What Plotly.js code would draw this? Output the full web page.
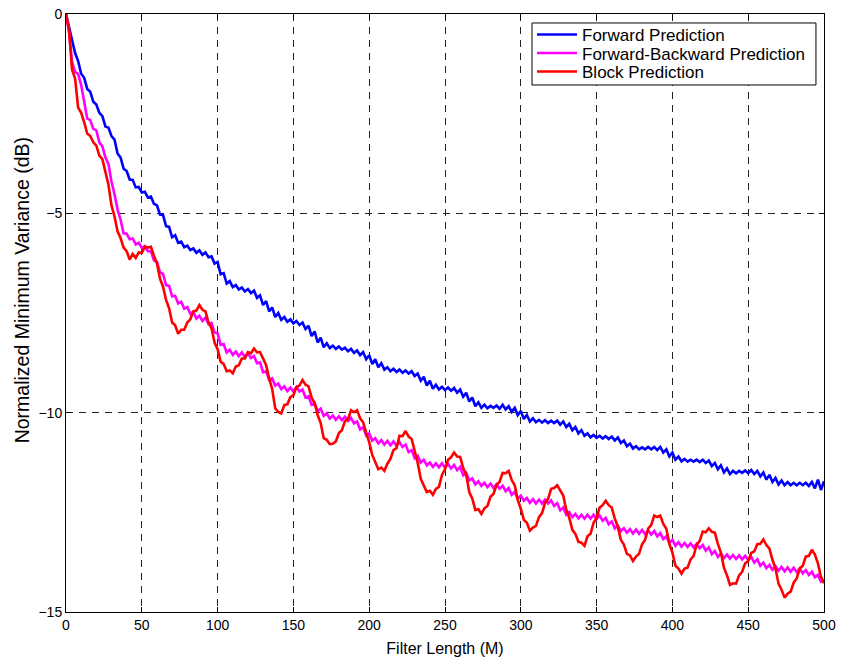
<!DOCTYPE html>
<html>
<head>
<meta charset="utf-8">
<script src="https://cdn.plot.ly/plotly-3.0.1.min.js"></script>
<style>
  html, body { margin: 0; padding: 0; background: #fff; }
  #chart { width: 843px; height: 662px; }
</style>
</head>
<body>
<div id="chart"></div>
<script>
// Filter lengths M = 0, 2, 4, ..., 500
const filterLength = [];
for (let m = 0; m <= 500; m += 2) filterLength.push(m);

// Normalized minimum variance (dB), one value per filter length
const forwardPrediction = [
  0, -0.32, -0.62, -0.98, -1.18, -1.5, -1.6, -1.88, -1.95, -2.2,
  -2.27, -2.48, -2.56, -2.82, -2.85, -3.06, -3.15, -3.5, -3.6, -3.88,
  -3.94, -4.15, -4.16, -4.35, -4.34, -4.48, -4.46, -4.6, -4.58, -4.76,
  -4.8, -5.03, -5.04, -5.32, -5.34, -5.6, -5.55, -5.74, -5.71, -5.85,
  -5.81, -5.92, -5.88, -5.99, -5.93, -6.04, -5.98, -6.1, -6.08, -6.26,
  -6.22, -6.53, -6.5, -6.76, -6.7, -6.85, -6.8, -6.91, -6.86, -6.96,
  -6.9, -7.0, -6.94, -7.12, -7.06, -7.3, -7.2, -7.46, -7.36, -7.6,
  -7.5, -7.67, -7.6, -7.72, -7.66, -7.76, -7.7, -7.8, -7.74, -7.9,
  -7.82, -8.08, -7.96, -8.24, -8.12, -8.36, -8.26, -8.38, -8.32, -8.4,
  -8.34, -8.42, -8.37, -8.46, -8.4, -8.5, -8.44, -8.56, -8.48, -8.66,
  -8.56, -8.78, -8.66, -8.86, -8.76, -8.92, -8.86, -8.96, -8.9, -8.98,
  -8.92, -9.0, -8.94, -9.02, -8.96, -9.08, -9.02, -9.2, -9.1, -9.32,
  -9.2, -9.4, -9.3, -9.42, -9.35, -9.43, -9.37, -9.45, -9.38, -9.5,
  -9.42, -9.6, -9.5, -9.72, -9.62, -9.84, -9.74, -9.88, -9.8, -9.89,
  -9.83, -9.88, -9.82, -9.9, -9.8, -9.92, -9.84, -9.98, -9.88, -10.06,
  -9.96, -10.16, -10.06, -10.22, -10.14, -10.24, -10.18, -10.25, -10.19, -10.26,
  -10.2, -10.26, -10.2, -10.3, -10.22, -10.36, -10.28, -10.44, -10.36, -10.52,
  -10.44, -10.58, -10.52, -10.62, -10.56, -10.63, -10.58, -10.65, -10.59, -10.66,
  -10.6, -10.7, -10.62, -10.76, -10.7, -10.84, -10.78, -10.9, -10.84, -10.92,
  -10.87, -10.92, -10.86, -10.92, -10.86, -10.94, -10.86, -11.0, -10.92, -11.1,
  -11.0, -11.18, -11.1, -11.22, -11.16, -11.23, -11.18, -11.23, -11.18, -11.24,
  -11.18, -11.26, -11.2, -11.34, -11.26, -11.42, -11.32, -11.5, -11.4, -11.54,
  -11.46, -11.52, -11.46, -11.51, -11.45, -11.52, -11.44, -11.54, -11.46, -11.6,
  -11.5, -11.68, -11.56, -11.74, -11.64, -11.8, -11.7, -11.82, -11.74, -11.82,
  -11.76, -11.82, -11.76, -11.82, -11.76, -11.84, -11.74, -11.9, -11.68, -11.94,
  -11.72
];

const forwardBackwardPrediction = [
  0, -0.45, -1.2, -1.45, -1.5, -1.78, -2.2, -2.62, -2.66, -2.88,
  -2.92, -3.22, -3.32, -3.6, -3.76, -4.2, -4.52, -4.9, -5.16, -5.5,
  -5.51, -5.65, -5.63, -5.78, -5.74, -5.87, -5.82, -5.95, -5.95, -6.18,
  -6.22, -6.48, -6.52, -6.8, -6.82, -7.08, -7.07, -7.26, -7.22, -7.39,
  -7.35, -7.52, -7.47, -7.64, -7.57, -7.7, -7.62, -7.78, -7.75, -7.99,
  -8.01, -8.3, -8.28, -8.49, -8.42, -8.55, -8.47, -8.58, -8.49, -8.6,
  -8.51, -8.63, -8.58, -8.76, -8.74, -8.99, -8.96, -9.18, -9.14, -9.32,
  -9.27, -9.41, -9.34, -9.46, -9.37, -9.47, -9.36, -9.47, -9.42, -9.62,
  -9.59, -9.8, -9.77, -9.96, -9.9, -10.08, -10.02, -10.15, -10.07, -10.18,
  -10.09, -10.19, -10.1, -10.21, -10.13, -10.27, -10.22, -10.42, -10.36, -10.57,
  -10.52, -10.7, -10.64, -10.77, -10.69, -10.8, -10.71, -10.82, -10.72, -10.83,
  -10.74, -10.86, -10.8, -10.99, -10.94, -11.14, -11.08, -11.25, -11.18, -11.32,
  -11.25, -11.36, -11.27, -11.37, -11.27, -11.38, -11.29, -11.4, -11.31, -11.44,
  -11.36, -11.57, -11.51, -11.7, -11.65, -11.8, -11.72, -11.84, -11.76, -11.87,
  -11.78, -11.89, -11.8, -11.91, -11.83, -11.97, -11.89, -12.06, -11.99, -12.16,
  -12.08, -12.21, -12.14, -12.26, -12.17, -12.28, -12.18, -12.28, -12.18, -12.28,
  -12.2, -12.34, -12.27, -12.45, -12.38, -12.56, -12.49, -12.62, -12.54, -12.65,
  -12.56, -12.66, -12.56, -12.66, -12.56, -12.67, -12.58, -12.71, -12.64, -12.8,
  -12.73, -12.9, -12.83, -12.97, -12.9, -13.01, -12.92, -13.03, -12.93, -13.04,
  -12.94, -13.05, -12.95, -13.06, -12.97, -13.1, -13.02, -13.17, -13.1, -13.27,
  -13.19, -13.34, -13.25, -13.36, -13.27, -13.37, -13.28, -13.38, -13.29, -13.4,
  -13.32, -13.46, -13.38, -13.55, -13.47, -13.62, -13.53, -13.65, -13.56, -13.66,
  -13.57, -13.67, -13.58, -13.68, -13.59, -13.7, -13.62, -13.76, -13.68, -13.84,
  -13.76, -13.9, -13.82, -13.94, -13.85, -13.96, -13.87, -13.98, -13.88, -13.99,
  -13.89, -14.0, -13.91, -14.03, -13.95, -14.07, -13.99, -14.13, -14.07, -14.24,
  -14.2
];

const blockPrediction = [
  0, -0.4, -1.4, -1.62, -2.35, -2.48, -2.72, -3.0, -3.06, -3.22,
  -3.3, -3.55, -3.64, -3.95, -4.28, -4.8, -5.08, -5.45, -5.62, -5.86,
  -5.95, -6.16, -6.02, -6.12, -5.98, -5.99, -5.84, -5.86, -5.84, -6.06,
  -6.26, -6.64, -6.84, -7.17, -7.38, -7.74, -7.81, -8.02, -7.92, -7.92,
  -7.74, -7.66, -7.46, -7.44, -7.3, -7.42, -7.46, -7.74, -7.88, -8.24,
  -8.41, -8.72, -8.78, -8.96, -8.94, -9.01, -8.84, -8.81, -8.64, -8.64,
  -8.48, -8.51, -8.39, -8.49, -8.48, -8.64, -8.81, -9.14, -9.41, -9.89,
  -9.98, -10.02, -9.81, -9.79, -9.61, -9.56, -9.36, -9.32, -9.18, -9.3,
  -9.34, -9.62, -9.76, -10.06, -10.26, -10.64, -10.68, -10.79, -10.78, -10.72,
  -10.51, -10.44, -10.21, -10.16, -9.94, -9.99, -9.94, -10.14, -10.24, -10.5,
  -10.74, -11.06, -11.24, -11.42, -11.38, -11.46, -11.28, -11.16, -10.94, -10.89,
  -10.58, -10.59, -10.46, -10.6, -10.66, -10.94, -11.26, -11.66, -11.81, -11.99,
  -11.96, -12.06, -11.91, -11.86, -11.56, -11.42, -11.18, -11.12, -11.0, -11.1,
  -11.11, -11.39, -11.56, -11.99, -12.16, -12.44, -12.42, -12.54, -12.4, -12.34,
  -12.11, -12.04, -11.81, -11.74, -11.51, -11.52, -11.46, -11.69, -11.82, -12.19,
  -12.41, -12.69, -12.76, -12.96, -12.88, -12.84, -12.62, -12.52, -12.26, -12.16,
  -11.91, -11.89, -11.82, -11.96, -12.08, -12.44, -12.64, -12.94, -13.04, -13.24,
  -13.26, -13.34, -13.1, -13.04, -12.76, -12.64, -12.38, -12.32, -12.21, -12.32,
  -12.38, -12.66, -12.86, -13.19, -13.31, -13.54, -13.58, -13.72, -13.61, -13.54,
  -13.3, -13.19, -12.91, -12.82, -12.58, -12.62, -12.58, -12.79, -12.91, -13.29,
  -13.51, -13.84, -13.91, -14.04, -13.91, -13.89, -13.68, -13.59, -13.31, -13.22,
  -12.98, -13.0, -12.9, -12.99, -13.01, -13.29, -13.51, -13.89, -14.08, -14.32,
  -14.28, -14.29, -14.08, -13.99, -13.78, -13.72, -13.52, -13.48, -13.3, -13.29,
  -13.18, -13.32, -13.41, -13.69, -13.91, -14.29, -14.44, -14.64, -14.54, -14.49,
  -14.26, -14.16, -13.91, -13.84, -13.61, -13.59, -13.44, -13.56, -13.78, -14.12,
  -14.28
];

const seriesNames = ['Forward Prediction', 'Forward-Backward Prediction', 'Block Prediction'];
const xTickValues = [0, 50, 100, 150, 200, 250, 300, 350, 400, 450, 500];
const yTickValues = [-15, -10, -5, 0];
const xTitle = 'Filter Length (M)';
const yTitle = 'Normalized Minimum Variance (dB)';

const FONT = 'Liberation Sans, Arial, Helvetica, sans-serif';
const colors = ['#0000ff', '#ff00ff', '#ff0000'];
const allSeries = [forwardPrediction, forwardBackwardPrediction, blockPrediction];

// Each series gets its own legend row so the rows can sit tightly inside one framed box
const legendIds = ['legend', 'legend2', 'legend3'];
const legendRowsY = [0.965, 0.934, 0.903];

const traces = allSeries.map((ys, i) => ({
  x: filterLength,
  y: ys,
  type: 'scatter',
  mode: 'lines',
  name: seriesNames[i],
  legend: legendIds[i],
  line: { color: colors[i], width: 2.6 }
}));

const axisCommon = {
  showline: true,
  linecolor: '#000',
  linewidth: 1,
  mirror: 'ticks',
  ticks: 'inside',
  ticklen: 5,
  tickcolor: '#000',
  showgrid: true,
  gridcolor: '#222',
  gridwidth: 1,
  griddash: '7px,6px',
  zeroline: false,
  tickfont: { family: FONT, size: 14, color: '#000' }
};

const layout = {
  width: 843,
  height: 662,
  margin: { l: 66, r: 19, t: 14, b: 50 },
  paper_bgcolor: '#fff',
  plot_bgcolor: '#fff',
  font: { family: FONT, size: 14, color: '#000' },
  showlegend: true,
  xaxis: Object.assign({}, axisCommon, {
    range: [0, 500],
    tickvals: xTickValues,
    title: { text: xTitle, font: { family: FONT, size: 16 }, standoff: 11 }
  }),
  yaxis: Object.assign({}, axisCommon, {
    range: [-15, 0],
    tickvals: yTickValues
  }),
  annotations: [{
    text: yTitle,
    xref: 'paper', yref: 'paper',
    x: -0.058, y: 0.538,
    xanchor: 'center', yanchor: 'middle',
    textangle: -90,
    showarrow: false,
    font: { family: FONT, size: 19.5, color: '#000' }
  }],
  // legend frame
  shapes: [{
    type: 'rect', xref: 'paper', yref: 'paper',
    x0: 0.6148, x1: 0.9894, y0: 0.8813, y1: 0.985,
    fillcolor: '#fff', line: { color: '#000', width: 1 },
    layer: 'above'
  }]
};

legendIds.forEach((id, i) => {
  layout[id] = {
    x: 0.6148, y: legendRowsY[i], xanchor: 'left', yanchor: 'middle',
    bgcolor: 'rgba(0,0,0,0)', borderwidth: 0,
    font: { family: FONT, size: 17, color: '#000' },
    itemwidth: 40
  };
});

Plotly.newPlot('chart', traces, layout, { displayModeBar: false, staticPlot: true });
</script>
</body>
</html>
